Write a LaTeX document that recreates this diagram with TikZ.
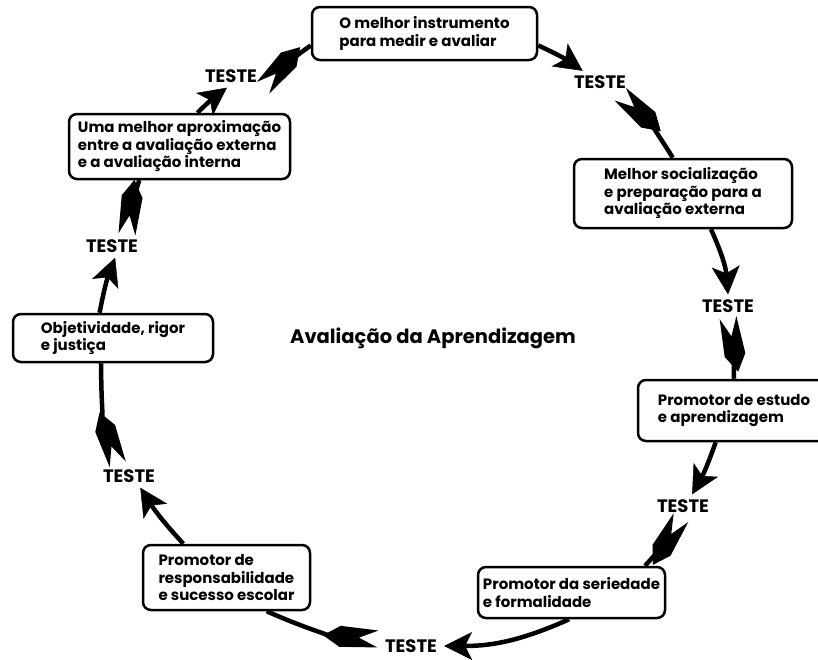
\documentclass[tikz,border=0pt]{standalone}
\usepackage{fontspec}
\setmainfont{Poppins}
\usetikzlibrary{arrows.meta,positioning}

% cauda de flecha (pena), com o entalhe voltado para fora
\pgfdeclarearrow{
  name = Pena,
  setup code = {
    \pgfarrowssettipend{55pt}
    \pgfarrowssetbackend{0pt}
    \pgfarrowssetlineend{4pt}
  },
  drawing code = {
    \pgfpathmoveto{\pgfqpoint{0pt}{0pt}}
    \pgfpathlineto{\pgfqpoint{17pt}{10.5pt}}
    \pgfpathlineto{\pgfqpoint{55pt}{8.5pt}}
    \pgfpathlineto{\pgfqpoint{36pt}{0pt}}
    \pgfpathlineto{\pgfqpoint{55pt}{-8.5pt}}
    \pgfpathlineto{\pgfqpoint{17pt}{-10.5pt}}
    \pgfpathclose
    \pgfusepathqfill
  }
}

\tikzset{
  caixa/.style={draw, rounded corners=8pt, line width=2.5pt, align=left,
    font=\bfseries\fontsize{15}{17.5}\selectfont},
  teste/.style={font=\bfseries\fontsize{18}{18}\selectfont, inner xsep=7pt, inner ysep=5pt},
  seta/.style={line width=4.5pt, -{Stealth[length=28pt,width=28pt,inset=7pt,line width=0.5pt]}},
  cauda/.style={line width=4.5pt, {Pena}-},
}

\begin{document}
\begin{tikzpicture}[x=1pt,y=1pt]
    \useasboundingbox (0,0) rectangle (818,-659);

    % Caixas do ciclo
    \node[caixa, minimum width=225pt, minimum height=53pt] (b1) at (424.5,-33.5) {O melhor instrumento\\para medir e avaliar};
    \node[caixa, minimum width=218pt, minimum height=69pt] (b2) at (683,-193.5) {Melhor socialização\\e preparação para a\\avaliação externa};
    \node[caixa, minimum width=192pt, minimum height=61pt] (b3) at (734,-410.5) {Promotor de estudo\\e aprendizagem};
    \node[caixa, minimum width=187pt, minimum height=51pt] (b4) at (571.5,-592.5) {Promotor da seriedade\\e formalidade};
    \node[caixa, minimum width=167pt, minimum height=65pt] (b5) at (226.5,-577.5) {Promotor de\\responsabilidade\\e sucesso escolar};
    \node[caixa, minimum width=200pt, minimum height=48pt] (b6) at (113,-338) {Objetividade, rigor\\e justiça};
    \node[caixa, minimum width=221pt, minimum height=65pt] (b7) at (179.5,-146.5) {Uma melhor aproximação\\entre a avaliação externa\\e a avaliação interna};

    % Testes
    \node[teste] (t1) at (600,-82.5) {TESTE};
    \node[teste] (t2) at (728,-306) {TESTE};
    \node[teste] (t3) at (683,-506) {TESTE};
    \node[teste] (t4) at (411,-646) {TESTE};
    \node[teste] (t5) at (129,-476) {TESTE};
    \node[teste] (t6) at (112,-246) {TESTE};
    \node[teste] (t7) at (231,-76) {TESTE};

    % Centro
    \node[font=\bfseries\fontsize{19.5}{19.5}\selectfont] (titulo) at (433,-338) {Avaliação da Aprendizagem};

    % Setas
    \draw[seta] (b1.-6) to[bend left=5] (t1.146);
    \draw[cauda] (t1.-30) to[bend left=8] (b2.106);
    \draw[seta] (b2.-52) to[bend left=10] (t2.north);
    \draw[cauda] (t2.south) to[bend left=5] (b3.north);
    \draw[seta] (b3.-120) to[bend left=5] (t3.52);
    \draw[cauda] (t3.-100) to[bend left=6] (b4.20);
    \draw[seta] (b4.-95) to[bend left=12] (t4.east);
    \draw[cauda] (t4.168) to[bend left=10] (b5.-40);
    \draw[seta] (b5.142) to[bend left=5] (t5.-46);
    \draw[cauda] (t5.134) to[bend left=10] (b6.-115);
    \draw[seta] (b6.118) to[bend left=5] (t6.-75);
    \draw[cauda] (t6.38) to[bend left=5] (b7.-140);
    \draw[seta] (b7.62) to[bend left=4] (t7.-109);
    \draw[cauda] (t7.-20) to[bend left=6] (b1.186);
\end{tikzpicture}
\end{document}
